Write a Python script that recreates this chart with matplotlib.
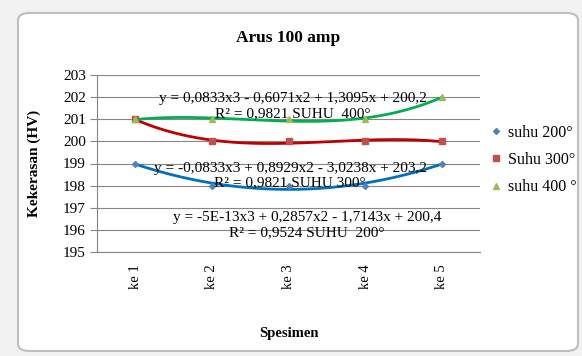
import matplotlib.pyplot as plt
import numpy as np
from matplotlib.patches import FancyBboxPatch

plt.rcParams['font.family'] = ['Liberation Serif', 'DejaVu Serif']

# data
categories = ["ke 1", "ke 2", "ke 3", "ke 4", "ke 5"]
suhu_200 = [199, 198, 198, 198, 199]
suhu_300 = [201, 200, 200, 200, 200]
suhu_400 = [201, 201, 201, 201, 202]

series_names = ["suhu 200°", "Suhu 300°", "suhu 400 °"]
equations = [
    "y = -5E-13x3 + 0,2857x2 - 1,7143x + 200,4\nR² = 0,9524 SUHU  200°",
    "y = -0,0833x3 + 0,8929x2 - 3,0238x + 203,2\nR² = 0,9821 SUHU 300°",
    "y = 0,0833x3 - 0,6071x2 + 1,3095x + 200,2\nR² = 0,9821 SUHU  400°",
]
eq_pos = [(3.24, 196.2), (3.02, 198.45), (3.06, 201.6)]

marker_colors = ["#4F81BD", "#C0504D", "#9BBB59"]
trend_colors = ["#0070C0", "#C00000", "#00B050"]
markers = ["D", "s", "^"]
msizes = [3, 4.5, 5]

W, H = 582, 356
fig = plt.figure(figsize=(W / 100, H / 100), dpi=100)
fig.patch.set_facecolor("#F2F2F2")

# chart area frame
frame = FancyBboxPatch((18 / W, 5 / H), 560 / W, 338 / H,
                       boxstyle="round,pad=0,rounding_size=0.02",
                       transform=fig.transFigure, facecolor="white",
                       edgecolor="#BFBFBF", linewidth=1.5, zorder=-5)
fig.patches.append(frame)

ax = fig.add_axes([97 / W, (H - 252) / H, (480 - 97) / W, (252 - 75) / H])
ax.set_facecolor("none")
ax.set_zorder(2)

x = np.arange(1, len(categories) + 1)
xs = np.linspace(1, 5, 200)
all_series = [suhu_200, suhu_300, suhu_400]
for vals, name, mc, tc, mk, ms in zip(all_series, series_names, marker_colors,
                                      trend_colors, markers, msizes):
    coef = np.polyfit(x, vals, 3)
    ax.plot(xs, np.polyval(coef, xs), color=tc, lw=2, zorder=2)
    ax.plot(x, vals, linestyle="none", marker=mk, ms=ms, color=mc,
            label=name, zorder=3)

for eq, (ex, ey) in zip(equations, eq_pos):
    ax.text(ex, ey, eq, ha="center", va="center", fontsize=11,
            linespacing=1.2, zorder=4)

ax.set_xlim(0.5, 5.5)
ax.set_ylim(195, 203)
ax.set_yticks(range(195, 204))
ax.set_xticks(x)
ax.set_xticklabels(categories, rotation=90, fontsize=10.5)
ax.tick_params(axis="y", labelsize=11, length=5, color="#868686", pad=3)
ax.tick_params(axis="x", length=0, pad=9)
ax.grid(axis="y", color="#868686", lw=0.8)
ax.set_axisbelow(True)
for s in ["top", "right"]:
    ax.spines[s].set_visible(False)
for s in ["left", "bottom"]:
    ax.spines[s].set_color("#868686")

ax.set_title("Arus 100 amp", fontsize=12.5, fontweight="bold", pad=24)
ax.set_ylabel("Kekerasan (HV)", fontsize=11, fontweight="bold", labelpad=16)
ax.set_xlabel("Spesimen", fontsize=10.5, fontweight="bold", labelpad=27)

ax.legend(loc="center left", bbox_to_anchor=(0.99, 0.52), frameon=False,
          fontsize=11.5, handlelength=0.7, handletextpad=0.4, labelspacing=0.7)

fig.savefig("out.png", dpi=100)
